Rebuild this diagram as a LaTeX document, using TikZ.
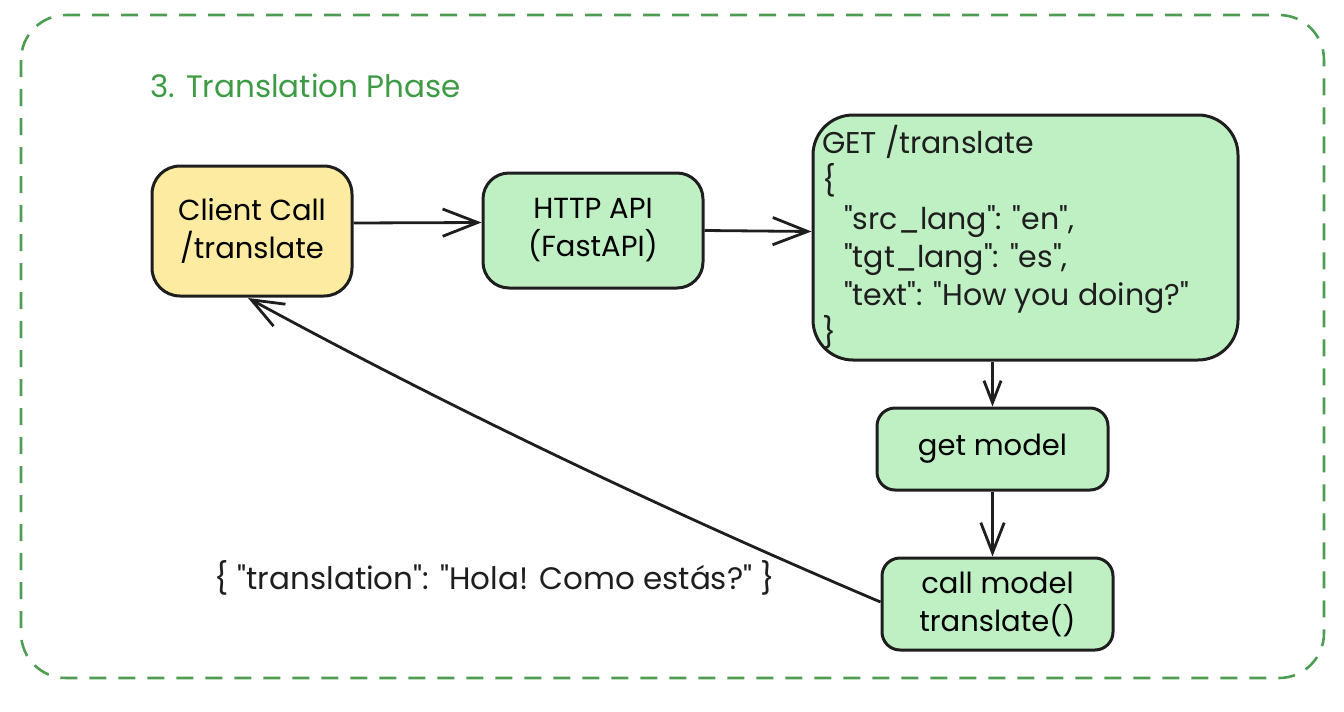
\documentclass[tikz,border=0pt]{standalone}
\usepackage{fontspec}
\setmainfont{Poppins}[Ligatures=TeXOff]
\usetikzlibrary{arrows.meta}
\definecolor{framegreen}{HTML}{4F9D52}
\definecolor{titlegreen}{HTML}{3E9A45}
\definecolor{boxgreen}{HTML}{BFF0C3}
\definecolor{boxyellow}{HTML}{FCEBA0}
\definecolor{ink}{HTML}{1E1E1E}
\begin{document}
\begin{tikzpicture}[x=1pt,y=-1pt,
  box/.style={draw=ink, line width=3pt, align=center, inner sep=0pt,
    font=\fontsize{29}{38}\selectfont},
  conn/.style={draw=ink, line width=2.8pt,
    -{Straight Barb[length=#1,width=#1*0.78,line width=2.8pt]}},
  conn/.default=35pt,
  lbl/.style={font=\fontsize{31}{38}\selectfont, text=ink, inner sep=0pt}
]
\useasboundingbox (0,0) rectangle (1344,712);
% frame
\draw[draw=framegreen, line width=2.6pt, dash pattern=on 17pt off 12pt, rounded corners=45pt]
  (21,15) rectangle (1324,678);
\node[anchor=west, text=titlegreen, font=\fontsize{31}{32}\selectfont, inner sep=0pt] (title) at (150,86) {3. Translation Phase};
% boxes
\node[box, fill=boxyellow, rounded corners=28pt, minimum width=200pt, minimum height=130pt] (client) at (252,231) {Client Call\\/translate};
\node[box, fill=boxgreen, rounded corners=26pt, minimum width=220pt, minimum height=115pt] (http) at (593,230.5) {HTTP API\\(FastAPI)};
\node[box, fill=boxgreen, rounded corners=40pt, minimum width=425pt, minimum height=245pt] (get) at (1025.5,237.5) {};
\node[lbl, font=\fontsize{30}{38}\selectfont, anchor=west, align=left] (gettext) at (822,237.5) {GET /translate\\\{\\\hspace*{22pt}"src\_lang": "en",\\\hspace*{22pt}"tgt\_lang": "es",\\\hspace*{22pt}"text": "How you doing?"\\\}};
\node[box, fill=boxgreen, rounded corners=18pt, minimum width=231pt, minimum height=82pt] (getm) at (992.5,449) {get model};
\node[box, fill=boxgreen, rounded corners=18pt, minimum width=231pt, minimum height=92pt] (callm) at (997.5,604) {call model\\translate()};
\node[lbl] (resp) at (495,578) {\{ "translation": "Hola! Como estás?" \}};
% connectors
\draw[conn] ([yshift=8pt]client.east) -- ([yshift=8pt]http.west);
\draw[conn] (http.east) -- ([yshift=6pt]get.west);
\draw[conn=22pt] (getm.north |- get.south) -- (getm.north);
\draw[conn=30pt] (getm.south) -- (getm.south |- callm.north);
\coordinate (tipc) at (248,298);
\draw[conn=32pt] ([yshift=2pt]callm.west) .. controls (666,511) and (452,409) .. (tipc);
\end{tikzpicture}
\end{document}
